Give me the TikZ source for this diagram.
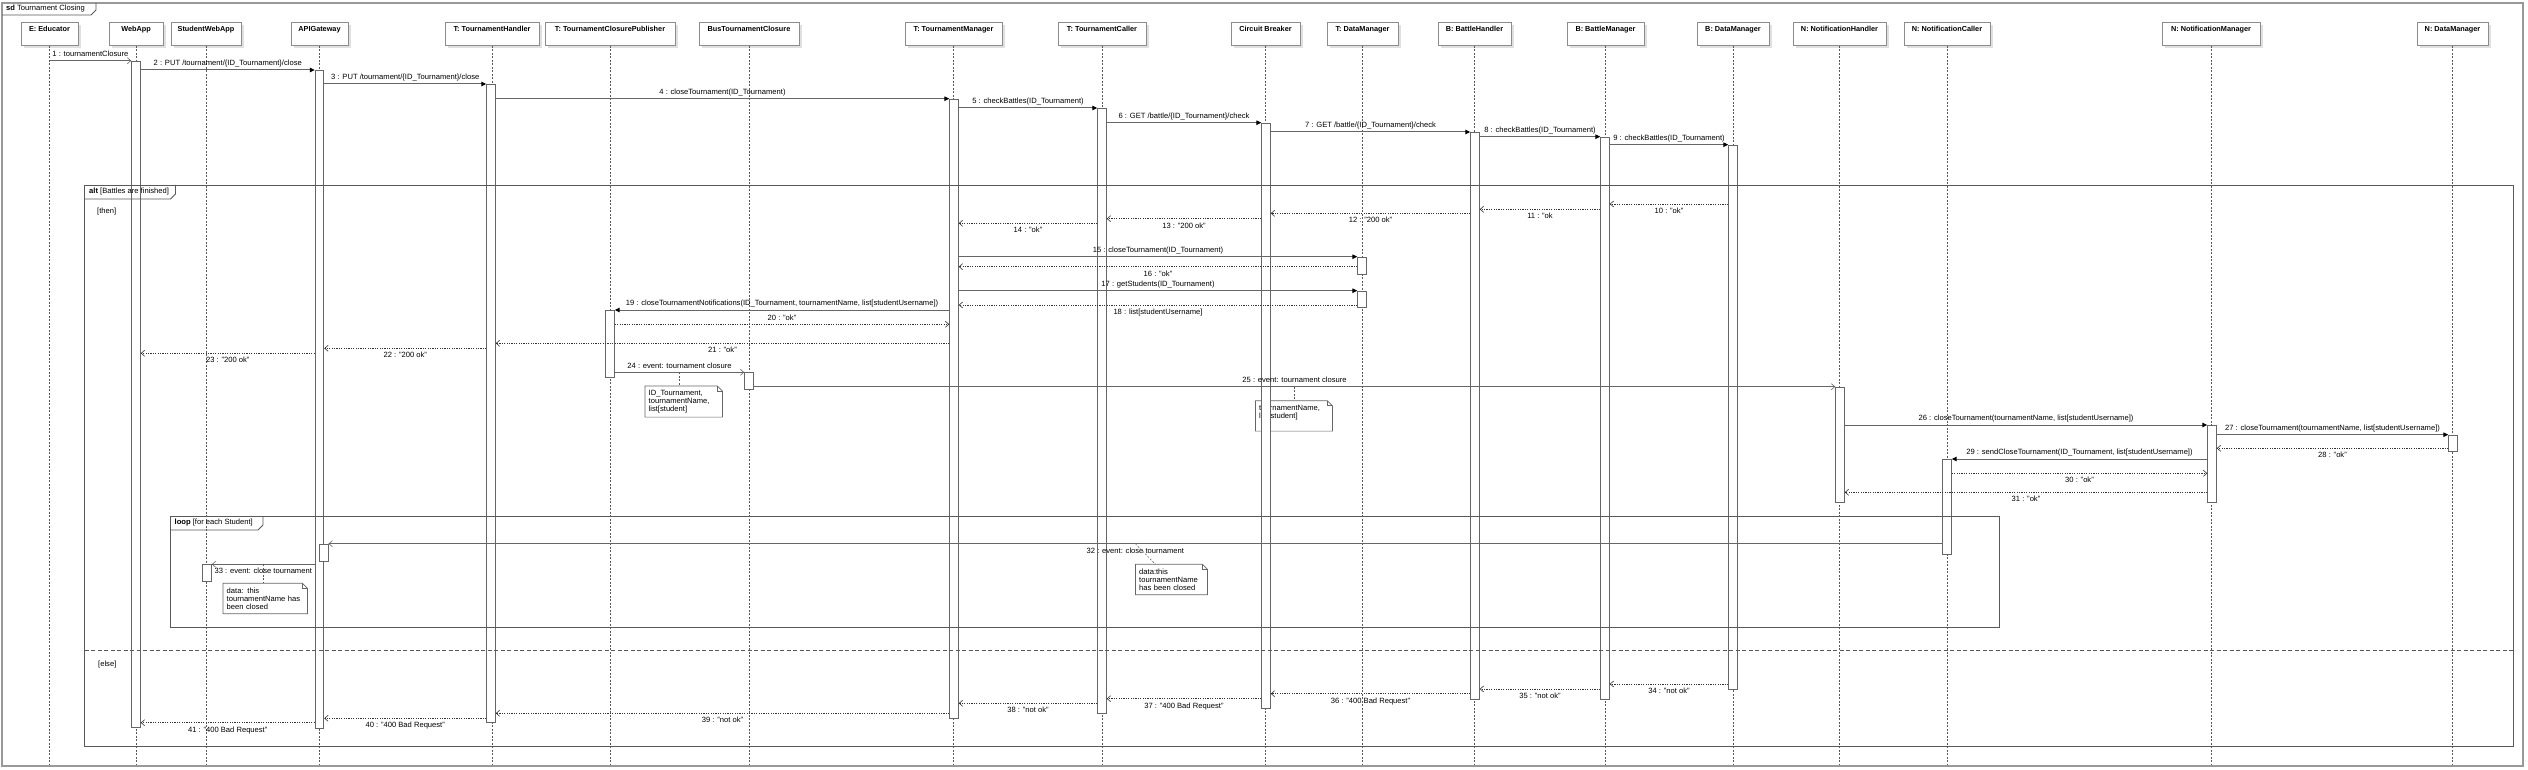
\documentclass[tikz,border=0pt]{standalone}
\usepackage{fontspec}
\setmainfont{Liberation Sans}
\usepackage{tikz}
\usetikzlibrary{arrows.meta, shadows, positioning}

% folded corner for the comment boxes
\newcommand{\dogear}[1]{%
  \draw[notel] (#1.north west) -- ([xshift=-5pt]#1.north east) -- ([yshift=-5pt]#1.north east)
    -- (#1.south east) -- (#1.south west) -- cycle;
  \draw[notel] ([xshift=-5pt]#1.north east) -- ([xshift=-5pt,yshift=-5pt]#1.north east)
    -- ([yshift=-5pt]#1.north east);
}

\begin{document}
\begin{tikzpicture}[x=1pt, y=-1pt, font=\fontsize{7.6}{7.8}\selectfont,
    head/.style={draw=black!45, line width=1pt, fill=white, anchor=north, inner xsep=2pt,
      inner ysep=3.8pt, text height=5.2pt, text depth=10.2pt,
      font=\fontsize{7.3}{7.6}\selectfont\bfseries,
      drop shadow={shadow xshift=2.5pt, shadow yshift=-2.5pt, fill=black!12, opacity=1}},
    act/.style={draw=black!60, line width=0.9pt, fill=white, anchor=north,
      minimum width=8.5pt, inner sep=0pt},
    call/.style={draw=black!60, line width=1pt, -{Triangle[length=5pt, width=4.5pt, color=black]}},
    async/.style={draw=black!60, line width=1pt, -{Straight Barb[length=3.5pt, width=6pt, line width=0.6pt]}},
    reply/.style={draw=black!80, line width=0.6pt, dash pattern=on 1.2pt off 1.2pt,
      -{Straight Barb[length=3.5pt, width=6pt]}},
    life/.style={draw=black!65, line width=0.5pt, dash pattern=on 2pt off 1.5pt},
    lbl/.style={inner sep=1pt, text height=5.6pt, text depth=1.6pt},
    frame/.style={draw=black!65, line width=0.9pt},
    note/.style={fill=white, anchor=north west, inner sep=3.5pt, align=left},
    notel/.style={draw=black!60, line width=0.7pt}]
  \useasboundingbox (0,0) rectangle (2528,770);

  % lifeline heads
  \node[head, minimum width=57pt] (edu) at (49.5,22) {E: Educator};
  \node[head, minimum width=54pt] (web) at (136,22) {WebApp};
  \node[head, minimum width=70pt] (swa) at (206,22) {StudentWebApp};
  \node[head, minimum width=57pt] (api) at (319.5,22) {APIGateway};
  \node[head, minimum width=94pt] (th) at (492,22) {T: TournamentHandler};
  \node[head, minimum width=130pt] (tp) at (610,22) {T: TournamentClosurePublisher};
  \node[head, minimum width=100pt] (bus) at (749,22) {BusTournamentClosure};
  \node[head, minimum width=97pt] (tm) at (953.5,22) {T: TournamentManager};
  \node[head, minimum width=88pt] (tc) at (1102,22) {T: TournamentCaller};
  \node[head, minimum width=69pt] (cb) at (1265.5,22) {Circuit Breaker};
  \node[head, minimum width=71pt] (td) at (1362.5,22) {T: DataManager};
  \node[head, minimum width=73pt] (bh) at (1474.5,22) {B: BattleHandler};
  \node[head, minimum width=77pt] (bm) at (1605.5,22) {B: BattleManager};
  \node[head, minimum width=72pt] (bd) at (1733,22) {B: DataManager};
  \node[head, minimum width=93pt] (nh) at (1839.5,22) {N: NotificationHandler};
  \node[head, minimum width=86pt] (nc) at (1947,22) {N: NotificationCaller};
  \node[head, minimum width=98pt] (nm) at (2211,22) {N: NotificationManager};
  \node[head, minimum width=71pt] (nd) at (2452.5,22) {N: DataManager};

  \foreach \n in {edu,web,swa,api,th,tp,bus,tm,tc,cb,td,bh,bm,bd,nh,nc,nm,nd}
    \draw[life] (\n.south) -- (\n.south |- 0,764);

  % comments
  \node[note, text width=70pt, minimum height=30.7pt] (n1) at (645,386) {ID\_Tournament,\\tournamentName,\\list[student]};
  \dogear{n1}
  \node[note, text width=69.5pt, minimum height=30pt] (n2) at (1255.5,400.7) {tournamentName,\\list[student]\\~};
  \dogear{n2}
  \node[note, text width=64.5pt, minimum height=30pt] (n3) at (1135.5,564.3) {data:this\\tournamentName\\has been closed};
  \dogear{n3}
  \node[note, text width=77pt, minimum height=30pt] (n4) at (223,583.3) {data: this\\tournamentName has\\been closed};
  \dogear{n4}

  % activations
  \node[act, minimum height=666.3pt] (aweb) at (136,60.7) {};
  \node[act, minimum height=657.7pt] (aapi) at (319.5,70) {};
  \node[act, minimum height=638.3pt] (ath) at (491,84) {};
  \node[act, minimum height=66.7pt] (atp) at (610,310) {};
  \node[act, minimum height=16.7pt] (abus) at (749,372.3) {};
  \node[act, minimum height=619pt] (atm) at (954,98.7) {};
  \node[act, minimum height=605pt] (atc) at (1102,108) {};
  \node[act, minimum height=585.3pt] (acb) at (1266,122.7) {};
  \node[act, minimum height=17.3pt] (atd1) at (1362,256.7) {};
  \node[act, minimum height=16.3pt] (atd2) at (1362,290.7) {};
  \node[act, minimum height=566.7pt] (abh) at (1475,132) {};
  \node[act, minimum height=562pt] (abm) at (1605,136.7) {};
  \node[act, minimum height=544.3pt] (abd) at (1733,144.7) {};
  \node[act, minimum height=115pt] (anh) at (1840,386.7) {};
  \node[act, minimum height=95.3pt] (anc) at (1947,459) {};
  \node[act, minimum height=76.7pt] (anm) at (2212,425) {};
  \node[act, minimum height=16.6pt] (andm) at (2453,434.7) {};
  \node[act, minimum height=17pt] (aapi2) at (323.7,543.7) {};
  \node[act, minimum height=16.7pt] (asw) at (207,564.3) {};

  % messages
  \draw[async] (edu |- 0,60.7) -- node[lbl, above=1pt] {1 : tournamentClosure} (aweb.west |- 0,60.7);
  \draw[call] (aweb.east |- 0,70) -- node[lbl, above=1pt] {2 : PUT /tournament/\{ID\_Tournament\}/close} (aapi.west |- 0,70);
  \draw[call] (aapi.east |- 0,84) -- node[lbl, above=1pt] {3 : PUT /tournament/\{ID\_Tournament\}/close} (ath.west |- 0,84);
  \draw[call] (ath.east |- 0,98.7) -- node[lbl, above=1pt] {4 : closeTournament(ID\_Tournament)} (atm.west |- 0,98.7);
  \draw[call] (atm.east |- 0,108) -- node[lbl, above=1pt] {5 : checkBattles(ID\_Tournament)} (atc.west |- 0,108);
  \draw[call] (atc.east |- 0,122.7) -- node[lbl, above=1pt] {6 : GET /battle/\{ID\_Tournament\}/check} (acb.west |- 0,122.7);
  \draw[call] (acb.east |- 0,132) -- node[lbl, above=1pt] {7 : GET /battle/\{ID\_Tournament\}/check} (abh.west |- 0,132);
  \draw[call] (abh.east |- 0,136.7) -- node[lbl, above=1pt] {8 : checkBattles(ID\_Tournament)} (abm.west |- 0,136.7);
  \draw[call] (abm.east |- 0,144.7) -- node[lbl, above=1pt] {9 : checkBattles(ID\_Tournament)} (abd.west |- 0,144.7);
  \draw[reply] (abd.west |- 0,204) -- node[lbl, below=2.5pt] {10 : "ok"} (abm.east |- 0,204);
  \draw[reply] (abm.west |- 0,209.3) -- node[lbl, below=2.5pt] {11 : "ok} (abh.east |- 0,209.3);
  \draw[reply] (abh.west |- 0,213.3) -- node[lbl, below=2.5pt] {12 : "200 ok"} (acb.east |- 0,213.3);
  \draw[reply] (acb.west |- 0,218.7) -- node[lbl, below=2.5pt] {13 : "200 ok"} (atc.east |- 0,218.7);
  \draw[reply] (atc.west |- 0,223.3) -- node[lbl, below=2.5pt] {14 : "ok"} (atm.east |- 0,223.3);
  \draw[call] (atm.east |- 0,256.7) -- node[lbl, above=1pt] {15 : closeTournament(ID\_Tournament)} (atd1.west |- 0,256.7);
  \draw[reply] (atd1.west |- 0,266.7) -- node[lbl, below=2.5pt] {16 : "ok"} (atm.east |- 0,266.7);
  \draw[call] (atm.east |- 0,290.7) -- node[lbl, above=1pt] {17 : getStudents(ID\_Tournament)} (atd2.west |- 0,290.7);
  \draw[reply] (atd2.west |- 0,305) -- node[lbl, below=2.5pt] {18 : list[studentUsername]} (atm.east |- 0,305);
  \draw[call] (atm.west |- 0,310) -- node[lbl, above=1pt] {19 : closeTournamentNotifications(ID\_Tournament, tournamentName, list[studentUsername])} (atp.east |- 0,310);
  \draw[reply] (atp.east |- 0,324.3) -- node[lbl, above=1pt] {20 : "ok"} (atm.west |- 0,324.3);
  \draw[reply] (atm.west |- 0,343.3) -- node[lbl, below=2.5pt] {21 : "ok"} (ath.east |- 0,343.3);
  \draw[reply] (ath.west |- 0,348.3) -- node[lbl, below=2.5pt] {22 : "200 ok"} (aapi.east |- 0,348.3);
  \draw[reply] (aapi.west |- 0,353.3) -- node[lbl, below=2.5pt] {23 : "200 ok"} (aweb.east |- 0,353.3);
  \draw[async] (atp.east |- 0,372.3) -- coordinate (m24) node[lbl, above=1pt] {24 : event: tournament closure} (abus.west |- 0,372.3);
  \draw[async] (abus.east |- 0,386.7) -- coordinate (m25) node[lbl, above=1pt] {25 : event: tournament closure} (anh.west |- 0,386.7);
  \draw[call] (anh.east |- 0,425) -- node[lbl, above=1pt] {26 : closeTournament(tournamentName, list[studentUsername])} (anm.west |- 0,425);
  \draw[call] (anm.east |- 0,434.7) -- node[lbl, above=1pt] {27 : closeTournament(tournamentName, list[studentUsername])} (andm.west |- 0,434.7);
  \draw[reply] (andm.west |- 0,448.3) -- node[lbl, below=2.5pt] {28 : "ok"} (anm.east |- 0,448.3);
  \draw[call] (anm.west |- 0,459) -- node[lbl, above=1pt] {29 : sendCloseTournament(ID\_Tournament, list[studentUsername])} (anc.east |- 0,459);
  \draw[reply] (anc.east |- 0,473.3) -- node[lbl, below=2.5pt] {30 : "ok"} (anm.west |- 0,473.3);
  \draw[reply] (anm.west |- 0,492.3) -- node[lbl, below=2.5pt] {31 : "ok"} (anh.east |- 0,492.3);
  \draw[async] (anc.west |- 0,543.7) -- coordinate (m32) node[lbl, below=2.5pt] {32 : event: close tournament} (aapi2.east |- 0,543.7);
  \draw[async] (aapi.west |- 0,564.3) -- coordinate (m33) node[lbl, below=2.5pt] {33 : event: close tournament} (asw.east |- 0,564.3);
  \draw[reply] (abd.west |- 0,684) -- node[lbl, below=2.5pt] {34 : "not ok"} (abm.east |- 0,684);
  \draw[reply] (abm.west |- 0,689) -- node[lbl, below=2.5pt] {35 : "not ok"} (abh.east |- 0,689);
  \draw[reply] (abh.west |- 0,693.7) -- node[lbl, below=2.5pt] {36 : "400 Bad Request"} (acb.east |- 0,693.7);
  \draw[reply] (acb.west |- 0,698.7) -- node[lbl, below=2.5pt] {37 : "400 Bad Request"} (atc.east |- 0,698.7);
  \draw[reply] (atc.west |- 0,703.3) -- node[lbl, below=2.5pt] {38 : "not ok"} (atm.east |- 0,703.3);
  \draw[reply] (atm.west |- 0,713.3) -- node[lbl, below=2.5pt] {39 : "not ok"} (ath.east |- 0,713.3);
  \draw[reply] (ath.west |- 0,718.3) -- node[lbl, below=2.5pt] {40 : "400 Bad Request"} (aapi.east |- 0,718.3);
  \draw[reply] (aapi.west |- 0,722.7) -- node[lbl, below=2.5pt] {41 : "400 Bad Request"} (aweb.east |- 0,722.7);

  % comment anchors
  \draw[life] (m24) -- (m24 |- n1.north);
  \draw[life] (m25) -- (m25 |- n2.north);
  \draw[life] (m32) -- ([xshift=20pt]n3.north west);
  \draw[life] (m33) -- (m33 |- n4.north);

  % frames
  \draw[draw=black!40, line width=1.3pt] (2,3) rectangle (2523,766);
  \draw[frame] (2,15) -- (91,15) -- (96,10) -- (96,3);
  \node[lbl, anchor=west] (sdlbl) at (5,9) {\textbf{sd} Tournament Closing};

  \draw[frame] (84.5,185) rectangle (2513.5,746.7);
  \draw[frame] (84.5,199) -- (170.5,199) -- (175.5,194) -- (175.5,185);
  \node[lbl, anchor=west] (altlbl) at (88,192) {\textbf{alt} [Battles are finished]};
  \node[lbl, anchor=west] (thenlbl) at (96,212) {[then]};
  \draw[frame, dash pattern=on 4pt off 2.5pt] (84.5,650.7) -- (2513.5,650.7);
  \node[lbl, anchor=west] (elselbl) at (97,664) {[else]};

  \draw[frame] (170,516) rectangle (1999,627);
  \draw[frame] (170,530) -- (258,530) -- (263,525) -- (263,516);
  \node[lbl, anchor=west] (looplbl) at (173.5,522.7) {\textbf{loop} [for each Student]};
\end{tikzpicture}
\end{document}
